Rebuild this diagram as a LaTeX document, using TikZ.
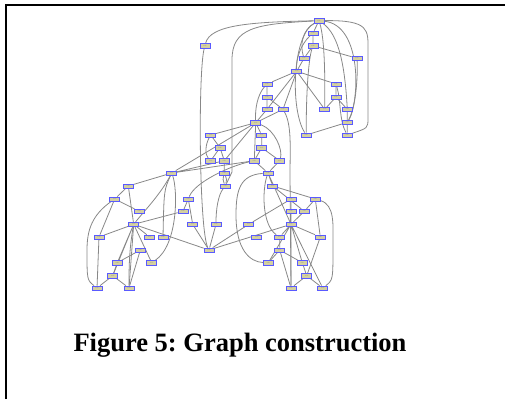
\documentclass[tikz,border=0pt]{standalone}
\usepackage{fontspec}
\setmainfont{Liberation Serif}
\usepackage{xcolor}
\usepackage{tikz}
\usetikzlibrary{backgrounds}
\definecolor{nodefill}{RGB}{212,208,160}
\definecolor{nodeline}{RGB}{90,90,255}
\definecolor{edgegray}{RGB}{136,136,136}
\tikzset{
	graphnode/.style={rectangle,draw=nodeline,fill=nodefill,line width=0.6pt,minimum width=10pt,minimum height=4.2pt,inner sep=0pt,text=gray,font=\fontsize{1.6}{1.6}\selectfont},
	graphedge/.style={draw=edgegray,line width=0.8pt}
}
\begin{document}
\begin{tikzpicture}[x=1pt,y=-1pt]
				\useasboundingbox (0,0) rectangle (505,399);
				\draw[line width=2pt] (6,399) -- (6,5) -- (505,5);
				% nodes
				\node[graphnode] (a) at (319,20.7) {node};
				\node[graphnode] (a1) at (313,33) {node};
				\node[graphnode] (a2) at (313,45.7) {node};
				\node[graphnode] (l1) at (205,45.7) {node};
				\node[graphnode] (a3) at (304,58.3) {node};
				\node[graphnode] (a4) at (357,58.3) {node};
				\node[graphnode] (b) at (296.7,71.3) {node};
				\node[graphnode] (c1) at (267,84) {node};
				\node[graphnode] (c2) at (336,84) {node};
				\node[graphnode] (c3) at (267,97) {node};
				\node[graphnode] (c4) at (336,97) {node};
				\node[graphnode] (c5) at (267,109.3) {node};
				\node[graphnode] (c6) at (283,109.3) {node};
				\node[graphnode] (c7) at (324.7,109.3) {node};
				\node[graphnode] (c8) at (347.3,109.3) {node};
				\node[graphnode] (c9) at (347.3,122.3) {node};
				\node[graphnode] (d) at (255.7,122.7) {node};
				\node[graphnode] (c10) at (306.3,135) {node};
				\node[graphnode] (c11) at (347.3,135) {node};
				\node[graphnode] (e1) at (210.7,135) {node};
				\node[graphnode] (e2) at (261.7,135) {node};
				\node[graphnode] (e3) at (220,147.7) {node};
				\node[graphnode] (e4) at (261.7,147.7) {node};
				\node[graphnode] (e5) at (210.7,160.7) {node};
				\node[graphnode] (e6) at (224.3,160.7) {node};
				\node[graphnode] (e7) at (254.3,160.7) {node};
				\node[graphnode] (e8) at (279.7,160.7) {node};
				\node[graphnode] (f) at (171.7,173) {node};
				\node[graphnode] (e9) at (224.3,173) {node};
				\node[graphnode] (g) at (268,173) {node};
				\node[graphnode] (e10) at (225.3,186) {node};
				\node[graphnode] (g1) at (272.7,186) {node};
				\node[graphnode] (h1) at (128.3,186) {node};
				\node[graphnode] (h2) at (114.7,199) {node};
				\node[graphnode] (h3) at (139.3,211.3) {node};
				\node[graphnode] (m1) at (188.3,199) {node};
				\node[graphnode] (m2) at (183,211.3) {node};
				\node[graphnode] (m3) at (192.7,224.3) {node};
				\node[graphnode] (m4) at (216,224.3) {node};
				\node[graphnode] (r1) at (291,199) {node};
				\node[graphnode] (r2) at (315.3,199) {node};
				\node[graphnode] (r3) at (291,211.3) {node};
				\node[graphnode] (r4) at (304.3,211.3) {node};
				\node[graphnode] (i) at (133.7,224.3) {node};
				\node[graphnode] (j) at (291,224.3) {node};
				\node[graphnode] (r5) at (248.7,224.3) {node};
				\node[graphnode] (k1) at (99,237) {node};
				\node[graphnode] (k2) at (149.7,237) {node};
				\node[graphnode] (k3) at (163,237) {node};
				\node[graphnode] (k4) at (140.3,250) {node};
				\node[graphnode] (k5) at (117.3,262.7) {node};
				\node[graphnode] (k6) at (151.7,262.7) {node};
				\node[graphnode] (k7) at (112.7,275.7) {node};
				\node[graphnode] (k8) at (97,288) {node};
				\node[graphnode] (k9) at (129,288) {node};
				\node[graphnode] (z) at (209,250) {node};
				\node[graphnode] (r6) at (256.7,237) {node};
				\node[graphnode] (r7) at (279.7,237) {node};
				\node[graphnode] (r8) at (320.3,237) {node};
				\node[graphnode] (r9) at (279.7,250) {node};
				\node[graphnode] (r10) at (268.3,262.7) {node};
				\node[graphnode] (r11) at (302.3,262.7) {node};
				\node[graphnode] (r12) at (306.7,275.7) {node};
				\node[graphnode] (r13) at (291,288) {node};
				\node[graphnode] (r14) at (322.7,288) {node};
				% edges behind the nodes
				\begin{pgfonlayer}{background}
				\begin{scope}[graphedge]
				% top cluster
				\draw (a) .. controls (250,22) and (210,25) .. (l1);
				\draw (a) .. controls (255,24) and (232,28) .. (232,60) -- (232,172) -- (e10);
				\draw (l1) .. controls (198,70) and (199,230) .. (z);
				\draw (a) .. controls (292,35) and (290,110) .. (c10);
				\draw (a) .. controls (325,40) and (325,80) .. (c7);
				\draw (a) .. controls (340,35) and (345,70) .. (c8);
				\draw (a) .. controls (362,25) and (360,100) .. (c9);
				\draw (a) .. controls (370,20) and (368,30) .. (368,50) -- (368,118) .. controls (368,128) .. (c11);
				\draw (a) -- (a1) (a1) -- (a2) (a2) -- (a3) (a3) -- (b) (a2) -- (a4);
				\draw (a) .. controls (302,30) and (300,45) .. (a3);
				\draw (a1) .. controls (300,45) and (296,60) .. (b);
				\draw (a2) .. controls (308,60) and (306,100) .. (c10);
				\draw (a4) .. controls (358,80) and (355,110) .. (c9);
				\draw (b) -- (c1) (b) -- (c2) (b) -- (c6) (b) -- (c7) (b) -- (c5);
				\draw (c1) -- (c3) (c3) -- (c5) (c3) -- (c6) (c5) -- (d) (c6) -- (d);
				\draw (c1) .. controls (257,95) and (255,110) .. (d);
				\draw (c2) -- (c4) (c4) -- (c7) (c4) -- (c8) (c8) -- (c9) (c9) -- (c11) (c9) -- (c10);
				\draw (c2) .. controls (341,100) and (339,120) .. (c11);
				\draw (c6) .. controls (292,125) and (290,150) .. (290,175) -- (r13);
				% middle
				\draw (d) -- (e1) (d) -- (e2) (d) -- (f) (d) -- (e6) (d) -- (e7);
				\draw (d) .. controls (275,130) and (283,150) .. (e8);
				\draw (e2) -- (e4) (e4) -- (e7) (e4) -- (e8) (e7) -- (g) (e8) -- (g);
				\draw (e1) -- (e3) (e3) -- (e5) (e3) -- (e6) (e6) -- (e9);
				\draw (e1) .. controls (205,145) and (205,155) .. (e5);
				\draw (e9) to[bend right=20] (e10) (e9) to[bend left=20] (e10);
				\draw (f) -- (e6) (f) -- (e7);
				% left lower
				\draw (f) -- (h1) (f) .. controls (160,195) and (145,210) .. (i);
				\draw (f) .. controls (164,190) .. (k3);
				\draw (f) .. controls (178,190) and (178,245) .. (k6);
				\draw (h1) -- (h2) (h1) -- (i) (h2) -- (h3) (h2) -- (k1);
				\draw (h2) .. controls (92,215) and (87,230) .. (87,250) .. controls (87,280) .. (k8);
				\draw (i) -- (m2) (i) -- (k1) (i) -- (k2) (i) -- (k5) (i) -- (k6) (i) -- (k7) (i) -- (k9) (i) -- (z);
				\draw (k4) -- (k5) (k4) -- (k9) (k5) -- (k7) (k7) -- (k8) (k7) -- (k9) (k1) -- (k8);
				\draw (i) .. controls (129,250) and (129,270) .. (k9);
				% centre
				\draw (m1) -- (m2) (m1) -- (m3) (m3) -- (z) (m4) -- (z);
				\draw (e10) .. controls (218,195) and (216,210) .. (m4);
				\draw (m1) .. controls (195,182) and (230,166) .. (e7);
				\draw (z) -- (r5) (z) -- (j);
				% right lower
				\draw (g) -- (g1) (g) -- (j);
				\draw (g) .. controls (240,175) and (236,190) .. (236,215) .. controls (236,250) and (250,262) .. (r10);
				\draw (g) .. controls (262,190) and (262,225) .. (r7);
				\draw (g1) -- (r2) (g1) -- (r4) (r1) -- (r3) (r3) -- (j) (r4) -- (j) (r2) -- (r4) (r2) -- (r8);
				\draw (r2) .. controls (335,205) and (333,225) .. (333,245) .. controls (333,280) .. (r14);
				\draw (r5) -- (r1);
				\draw (j) -- (r7) (j) -- (r8) (j) -- (r10) (j) -- (r11) (j) -- (r13) (j) -- (r14);
				\draw (r7) -- (r9) (r9) -- (r10) (r9) -- (r11) (r9) -- (r13) (r11) -- (r12) (r12) -- (r13) (r12) -- (r14) (r8) -- (r12);
				\end{scope}
				\end{pgfonlayer}
				\node[font=\bfseries\fontsize{26.5}{30}\selectfont,anchor=base] (caption) at (240,351) {\frenchspacing Figure 5: Graph construction};
			\end{tikzpicture}
\end{document}
